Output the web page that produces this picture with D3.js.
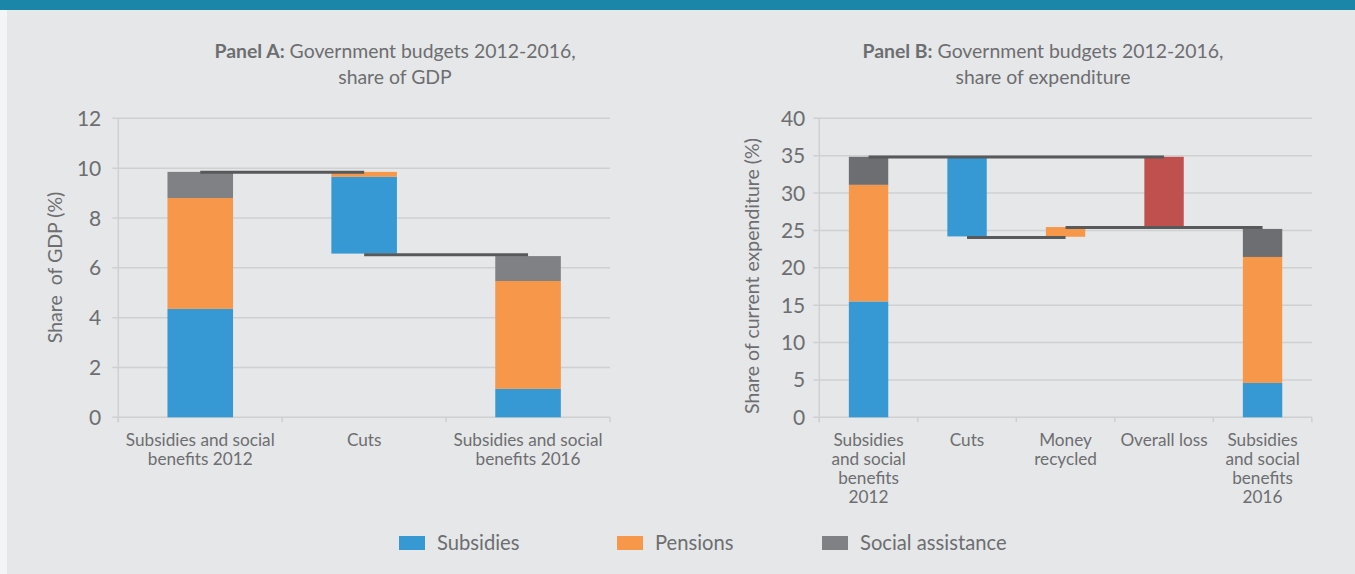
<!DOCTYPE html>
<html>
<head>
<meta charset="utf-8">
<script src="https://cdn.jsdelivr.net/npm/d3@7"></script>
<style>
  html, body { margin: 0; padding: 0; background: #e6e7e8; }
  svg { display: block; }
  text { font-family: Lato, "Open Sans", sans-serif; fill: #6d6e71; }
</style>
</head>
<body>
<svg id="chart" width="1355" height="574"></svg>
<script>
// ---------- DATA ----------
const seriesNames = ["Subsidies", "Pensions", "Social assistance"];

const panelACategories = [["Subsidies and social", "benefits 2012"], ["Cuts"], ["Subsidies and social", "benefits 2016"]];
const panelABase       = [0, 6.57, 0];
const panelASubsidies  = [4.35, 3.08, 1.14];
const panelAPensions   = [4.45, 0.20, 4.33];
const panelASocial     = [1.05, 0, 1.00];
const panelATicks      = [0, 2, 4, 6, 8, 10, 12];
const panelAConnectors = [{from: 0, to: 1, value: 9.83}, {from: 1, to: 2, value: 6.52}];

const panelBCategories = [["Subsidies", "and social", "benefits", "2012"], ["Cuts"], ["Money", "recycled"], ["Overall loss"], ["Subsidies", "and social", "benefits", "2016"]];
const panelBBase       = [0, 24.2, 24.15, 25.45, 0];
const panelBSubsidies  = [15.5, 10.65, 0, 0, 4.6];
const panelBPensions   = [15.6, 0, 1.3, 0, 16.85];
const panelBSocial     = [3.75, 0, 0, 0, 3.75];
const panelBLoss       = [0, 0, 0, 9.4, 0];
const panelBTicks      = [0, 5, 10, 15, 20, 25, 30, 35, 40];
const panelBConnectors = [{from: 0, to: 3, value: 34.83}, {from: 1, to: 2, value: 24.05}, {from: 2, to: 4, value: 25.38}];

// ---------- STYLE ----------
const C = {
  subsidies: "#3799d3",
  pensions: "#f6974a",
  socialA: "#808184",
  socialB: "#6d6e71",
  loss: "#c0504d",
  grid: "#cfd0d2",
  connector: "#58595b",
  text: "#6d6e71"
};

const svg = d3.select("#chart");
svg.append("rect").attr("x", 0).attr("y", 0).attr("width", 1355).attr("height", 574).attr("fill", "#e6e7e8");
svg.append("rect").attr("x", 0).attr("y", 0).attr("width", 1355).attr("height", 10).attr("fill", "#1b86a8");
svg.append("rect").attr("x", 0).attr("y", 10).attr("width", 7).attr("height", 564).attr("fill", "#f4f5f6");

function drawPanel(cfg) {
  const g = svg.append("g");
  const x = d3.scaleBand().domain(d3.range(cfg.categories.length))
    .range([cfg.left, cfg.right]).paddingInner(0.6).paddingOuter(0.3);
  const y = d3.scaleLinear().domain([0, cfg.max]).range([cfg.bottom, cfg.top]);

  // gridlines + y ticks
  g.selectAll("line.grid").data(cfg.ticks).join("line")
    .attr("x1", cfg.left - 6).attr("x2", cfg.right)
    .attr("y1", d => y(d)).attr("y2", d => y(d))
    .attr("stroke", C.grid).attr("stroke-width", 1.5);
  g.selectAll("text.ytick").data(cfg.ticks).join("text")
    .attr("x", cfg.left - cfg.labelGap).attr("y", d => y(d))
    .attr("dy", "0.36em").attr("text-anchor", "end")
    .style("font-size", "21px").text(d => d);

  // axes lines
  g.append("line").attr("x1", cfg.left).attr("x2", cfg.left)
    .attr("y1", cfg.top).attr("y2", cfg.bottom + 5)
    .attr("stroke", C.grid).attr("stroke-width", 1.5);
  const step = x.step();
  g.selectAll("line.xtick").data(d3.range(cfg.categories.length + 1)).join("line")
    .attr("x1", i => cfg.left + i * step).attr("x2", i => cfg.left + i * step)
    .attr("y1", cfg.bottom).attr("y2", cfg.bottom + 5)
    .attr("stroke", C.grid).attr("stroke-width", 1.5);

  // bars
  cfg.categories.forEach((cat, i) => {
    let acc = cfg.base[i];
    cfg.series.forEach(s => {
      const v = s.values[i];
      if (v > 0) {
        g.append("rect")
          .attr("x", x(i)).attr("width", x.bandwidth())
          .attr("y", y(acc + v)).attr("height", y(acc) - y(acc + v))
          .attr("fill", s.color);
      }
      acc += v;
    });
  });

  // connectors
  g.selectAll("line.conn").data(cfg.connectors).join("line")
    .attr("x1", d => x(d.from) + x.bandwidth() / 2)
    .attr("x2", d => x(d.to) + x.bandwidth() / 2)
    .attr("y1", d => y(d.value)).attr("y2", d => y(d.value))
    .attr("stroke", C.connector).attr("stroke-width", 3);

  // x labels
  cfg.categories.forEach((lines, i) => {
    const t = g.append("text").attr("text-anchor", "middle")
      .attr("x", x(i) + x.bandwidth() / 2).attr("y", cfg.bottom + 29)
      .style("font-size", "17.2px");
    lines.forEach((ln, k) => {
      t.append("tspan").attr("x", x(i) + x.bandwidth() / 2)
        .attr("dy", k === 0 ? 0 : 18.9).text(ln);
    });
  });

  // y title
  g.append("text").attr("text-anchor", "middle")
    .attr("transform", `translate(${cfg.ytitleX},${cfg.ytitleY}) rotate(-90)`)
    .attr("dy", "0.35em").style("font-size", "19.5px").style("white-space", "pre")
    .text(cfg.ytitle);

  // panel title
  const tt = g.append("text").attr("text-anchor", "middle")
    .attr("x", cfg.titleX).attr("y", 58).style("font-size", "19.4px");
  tt.append("tspan").style("font-weight", "bold").text(cfg.titleBold);
  tt.append("tspan").text(" Government budgets 2012-2016,");
  g.append("text").attr("text-anchor", "middle")
    .attr("x", cfg.titleX).attr("y", 84).style("font-size", "19.4px").text(cfg.title2);
}

drawPanel({
  categories: panelACategories, base: panelABase,
  series: [
    {values: panelASubsidies, color: C.subsidies},
    {values: panelAPensions, color: C.pensions},
    {values: panelASocial, color: C.socialA}
  ],
  connectors: panelAConnectors, ticks: panelATicks, max: 12,
  left: 118.3, right: 610, top: 118.3, bottom: 417.3, labelGap: 17,
  ytitle: "Share  of GDP (%)", ytitleX: 55, ytitleY: 267.5,
  titleBold: "Panel A:", title2: "share of GDP", titleX: 395
});

drawPanel({
  categories: panelBCategories, base: panelBBase,
  series: [
    {values: panelBSubsidies, color: C.subsidies},
    {values: panelBPensions, color: C.pensions},
    {values: panelBSocial, color: C.socialB},
    {values: panelBLoss, color: C.loss}
  ],
  connectors: panelBConnectors, ticks: panelBTicks, max: 40,
  left: 819.3, right: 1311.8, top: 118.3, bottom: 417.3, labelGap: 14,
  ytitle: "Share of current expenditure (%)", ytitleX: 752, ytitleY: 276,
  titleBold: "Panel B:", title2: "share of expenditure", titleX: 1043
});

// legend
const legendItems = [
  {name: seriesNames[0], color: C.subsidies, x: 399},
  {name: seriesNames[1], color: C.pensions, x: 617},
  {name: seriesNames[2], color: C.socialA, x: 822}
];
const lg = svg.append("g");
legendItems.forEach(d => {
  lg.append("rect").attr("x", d.x).attr("y", 536).attr("width", 26).attr("height", 14).attr("fill", d.color);
  lg.append("text").attr("x", d.x + 38).attr("y", 543).attr("dy", "0.36em")
    .style("font-size", "20.2px").text(d.name);
});
</script>
</body>
</html>
